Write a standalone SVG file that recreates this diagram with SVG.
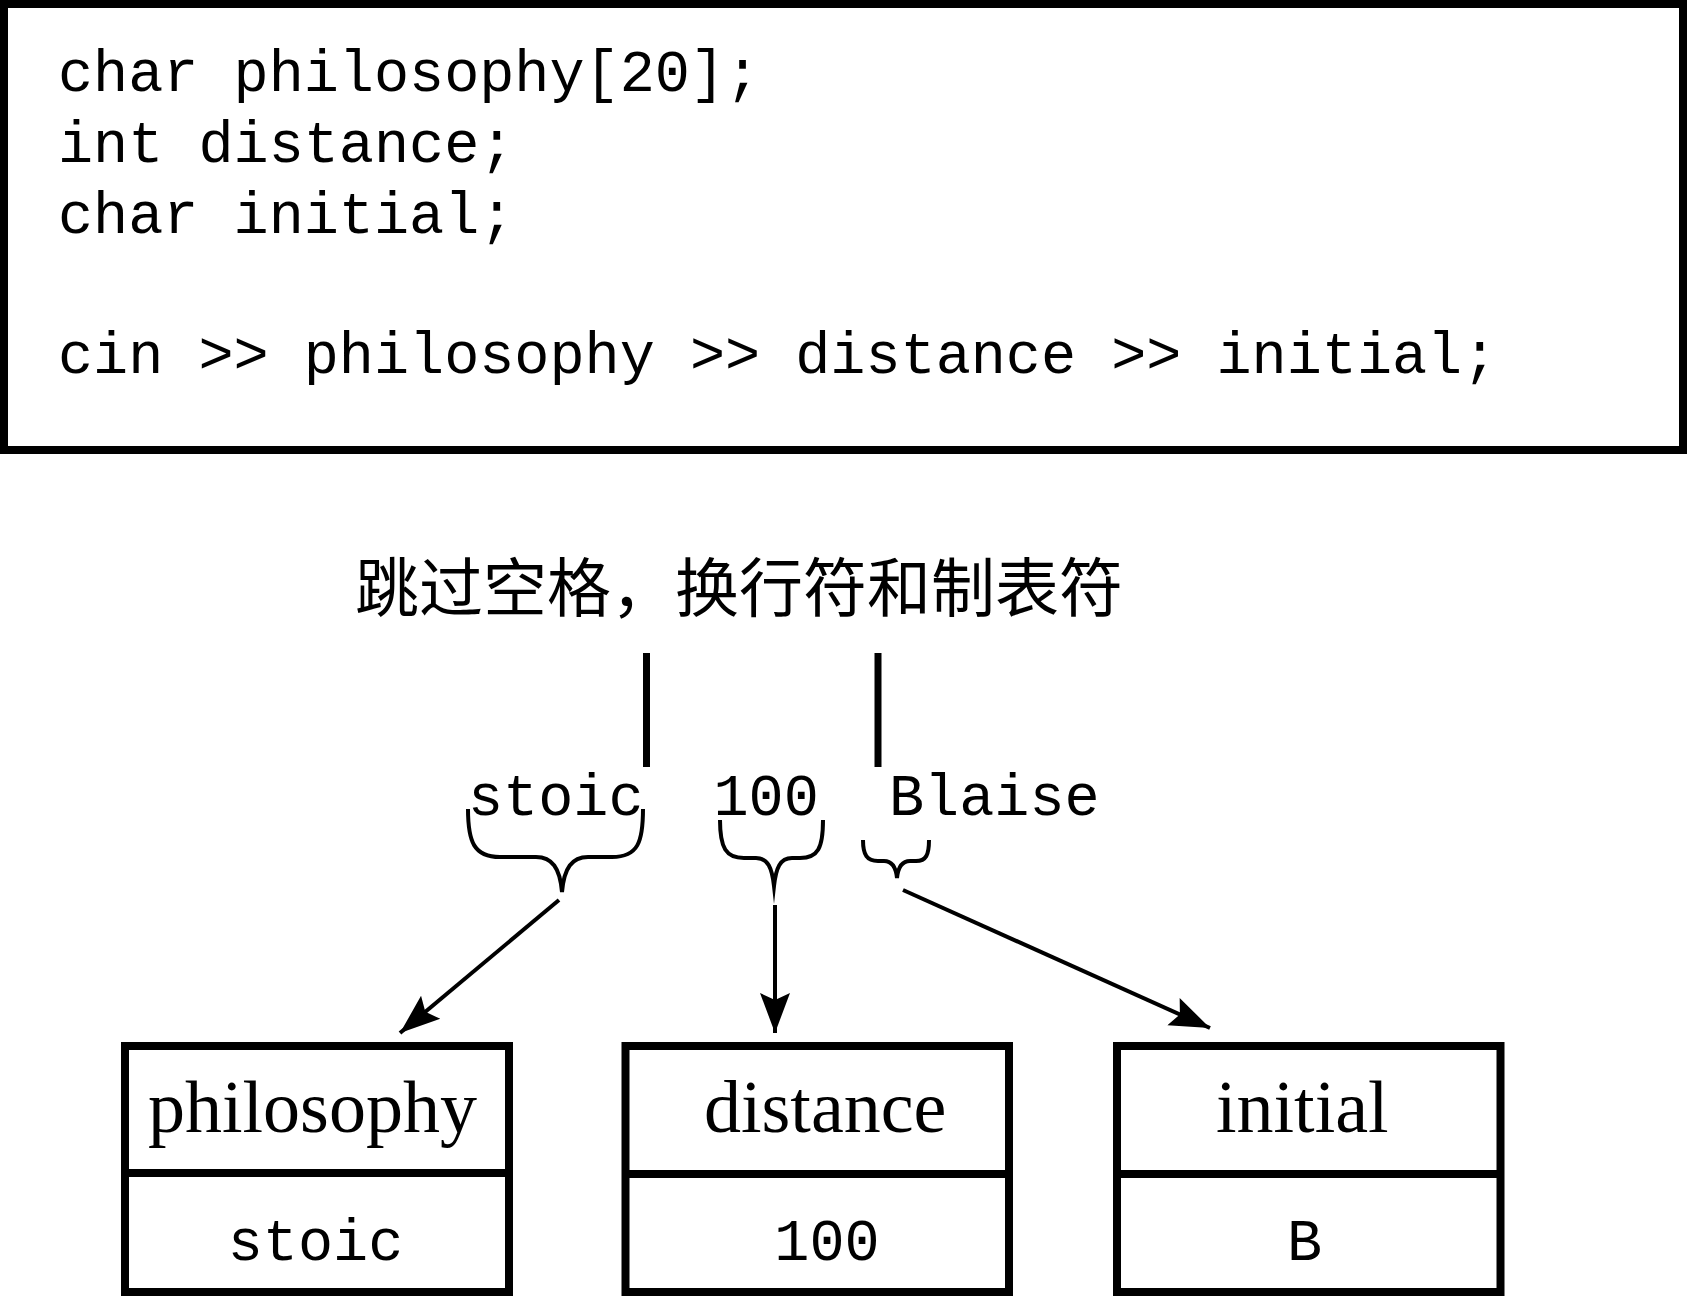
<svg xmlns="http://www.w3.org/2000/svg" width="1688" height="1296" viewBox="0 0 1688 1296">
  <style>
    .mono { font-family: "Liberation Mono", "DejaVu Sans Mono", monospace; font-size: 58.5px; fill: #000; }
    .serif { font-family: "Liberation Serif", "Times New Roman", serif; font-size: 74px; fill: #000; }
    .cjk { font-family: "Noto Sans CJK SC", "Noto Sans", sans-serif; font-size: 64px; fill: #000; }
    .box { fill: #fff; stroke: #000; stroke-width: 8; }
    .div { stroke: #000; stroke-width: 8; }
    .conn { fill: none; stroke: #000; stroke-width: 4; }
    .brace { fill: none; stroke: #000; stroke-width: 4; stroke-linejoin: miter; stroke-miterlimit: 10; }
    .tick { stroke: #000; stroke-width: 7; }
  </style>
  <defs>
    <marker id="ah" markerUnits="userSpaceOnUse" markerWidth="44" markerHeight="34" viewBox="0 -17 44 34" refX="40" refY="0" orient="auto">
      <path d="M0,-15 L40,0 L0,15 L7,0 Z" fill="#000"/>
    </marker>
  </defs>
  <rect width="1688" height="1296" fill="#fff"/>

  <g id="code">
    <rect class="box" x="4" y="4" width="1679" height="446"/>
    <text class="mono" x="58" y="90.5">char philosophy[20];</text>
    <text class="mono" x="58" y="161.5">int distance;</text>
    <text class="mono" x="58" y="232.5">char initial;</text>
    <text class="mono" x="58" y="373">cin &gt;&gt; philosophy &gt;&gt; distance &gt;&gt; initial;</text>
  </g>

  <g id="skip-note">
    <text class="cjk" x="355" y="611">跳过空格，换行符和制表符</text>
    <line class="tick" x1="646.5" y1="653" x2="646.5" y2="767"/>
    <line class="tick" x1="878" y1="653" x2="878" y2="767"/>
  </g>

  <g id="input">
    <text class="mono" x="468" y="815">stoic</text>
    <text class="mono" x="713.5" y="815">100</text>
    <text class="mono" x="889" y="815">Blaise</text>
    <path class="brace" d="M468,809 C468,842 474,857 500,857 L536,857 C552,857 560,868 562,892 C564,868 572,857 588,857 L612,857 C638,857 643,842 643,809"/>
    <path class="brace" d="M720,820 C720,848 726,858 744,858 L756,858 C768,858 772,868 774,886 C776,868 780,858 792,858 L800,858 C818,858 823,848 823,820"/>
    <path class="brace" d="M863,840 C863,855 867,861 878,861 L884,861 C892,861 896,868 897,878 C898,868 902,861 910,861 L916,861 C926,861 929,855 929,840"/>
  </g>

  <g id="connectors">
    <line class="conn" x1="559" y1="900" x2="400" y2="1033" marker-end="url(#ah)"/>
    <line class="conn" x1="775" y1="905" x2="775" y2="1033" marker-end="url(#ah)"/>
    <line class="conn" x1="903" y1="890" x2="1210" y2="1028" marker-end="url(#ah)"/>
  </g>

  <g id="var-philosophy">
    <rect class="box" x="125" y="1046" width="384" height="246"/>
    <line class="div" x1="125" y1="1173" x2="509" y2="1173"/>
    <text class="serif" x="148" y="1132">philosophy</text>
    <text class="mono" x="315.5" y="1260" text-anchor="middle">stoic</text>
  </g>

  <g id="var-distance">
    <rect class="box" x="625.5" y="1046" width="383.5" height="246"/>
    <line class="div" x1="625.5" y1="1174" x2="1009" y2="1174"/>
    <text class="serif" x="704" y="1132">distance</text>
    <text class="mono" x="827" y="1260" text-anchor="middle">100</text>
  </g>

  <g id="var-initial">
    <rect class="box" x="1117" y="1046" width="383.5" height="246"/>
    <line class="div" x1="1117" y1="1174" x2="1500.5" y2="1174"/>
    <text class="serif" x="1216" y="1132">initial</text>
    <text class="mono" x="1304.5" y="1260" text-anchor="middle">B</text>
  </g>
</svg>
